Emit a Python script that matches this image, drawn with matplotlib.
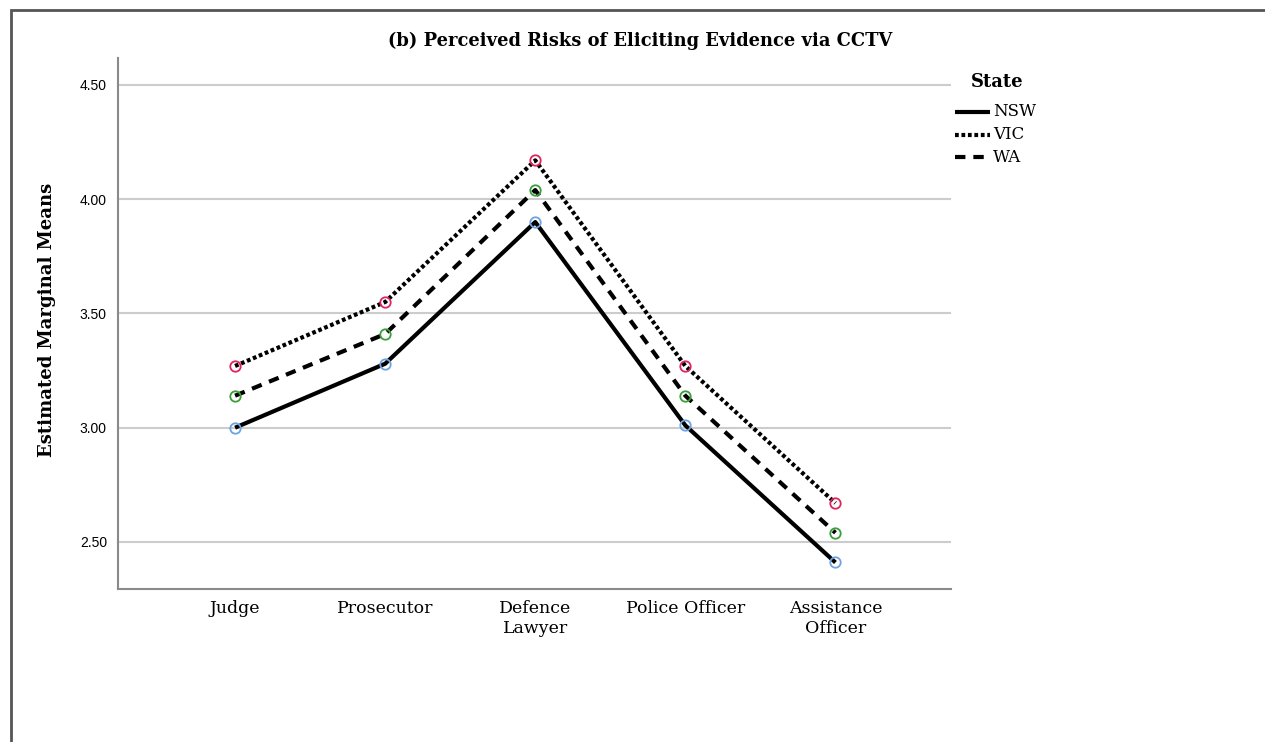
import matplotlib
matplotlib.use("Agg")
import matplotlib.pyplot as plt
from matplotlib.lines import Line2D
from matplotlib.patches import Rectangle

categories = ["Judge", "Prosecutor", "Defence\nLawyer", "Police Officer", "Assistance\nOfficer"]
states = ["NSW", "VIC", "WA"]
nsw = [3.00, 3.28, 3.90, 3.01, 2.41]
vic = [3.27, 3.55, 4.17, 3.27, 2.67]
wa = [3.14, 3.41, 4.04, 3.14, 2.54]
yticks = [2.50, 3.00, 3.50, 4.00, 4.50]

series = {"NSW": nsw, "VIC": vic, "WA": wa}
styles = {
    "NSW": dict(ls="-", mc="#6fa3e0"),
    "VIC": dict(ls=(0, (0.9, 0.65)), mc="#e0245e"),
    "WA": dict(ls=(0, (2.5, 1.9)), mc="#3a9e3a"),
}

W, H = 1265, 742
serif = ["DejaVu Serif"]
fig = plt.figure(figsize=(W / 100, H / 100), dpi=100)
ax = fig.add_axes([118 / W, 1 - 589 / H, (951 - 118) / W, (589 - 58) / H])

x = list(range(len(categories)))
for s in ["VIC", "WA", "NSW"]:
    st = styles[s]
    ax.plot(x, series[s], color="black", lw=3.0, ls=st["ls"], zorder=3,
            solid_capstyle="butt", dash_capstyle="butt")
    ax.plot(x, series[s], ls="none", marker="o", ms=7.5, mfc="none",
            mec=st["mc"], mew=1.3, zorder=4)

ax.set_xlim(-0.78, 4.77)
ax.set_ylim(2.294, 4.618)
ax.set_yticks(yticks)
ax.set_yticklabels([f"{v:.2f}" for v in yticks], fontsize=10, family="Liberation Sans")
ax.set_xticks(x)
ax.set_xticklabels(categories, fontsize=12.5, family=serif, linespacing=1.25)
ax.tick_params(length=0, pad=8)
ax.tick_params(axis="x", pad=8)
ax.grid(axis="y", color="#cccccc", lw=1.5, zorder=0)
for sp in ["top", "right"]:
    ax.spines[sp].set_visible(False)
for sp in ["left", "bottom"]:
    ax.spines[sp].set_color("#8a8a8a")
    ax.spines[sp].set_linewidth(1.5)

fig.text(47 / W, 1 - 320 / H, "Estimated Marginal Means", fontsize=13.1,
         family=serif, fontweight="bold", rotation=90, ha="center", va="center")
fig.text(640 / W, 1 - 41 / H, "(b) Perceived Risks of Eliciting Evidence via CCTV",
         fontsize=12.9, family=serif, fontweight="bold", ha="center", va="center")

# legend
fig.text(997 / W, 1 - 82 / H, "State", fontsize=13, family=serif,
         fontweight="bold", ha="center", va="center")
for s, yp in zip(states, [112, 134.5, 157]):
    fig.add_artist(Line2D([955 / W, 990 / W], [1 - yp / H, 1 - yp / H],
                          transform=fig.transFigure, color="black", lw=3.0,
                          ls=styles[s]["ls"], solid_capstyle="butt",
                          dash_capstyle="butt"))
    fig.text(993 / W, 1 - yp / H, s, fontsize=12, family=serif,
             ha="left", va="center")

fig.patches.append(Rectangle((11 / W, -0.1), 1.2, 1 - 10 / H + 0.1,
                             transform=fig.transFigure, fill=False,
                             edgecolor="#555555", lw=2.0))

fig.savefig("out.png", dpi=100)
